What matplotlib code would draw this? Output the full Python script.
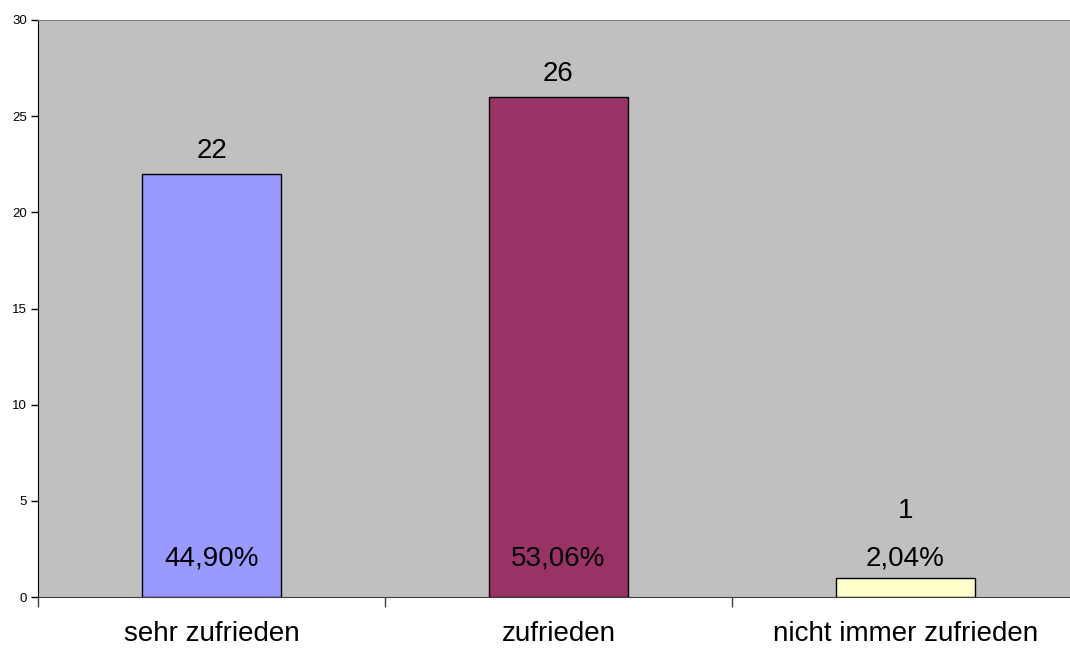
import numpy as np
import matplotlib
matplotlib.use("Agg")
import matplotlib.pyplot as plt

plt.rcParams['font.family'] = ['Liberation Sans', 'DejaVu Sans']

# data
categories = ['sehr zufrieden', 'zufrieden', 'nicht immer zufrieden']
counts = [22, 26, 1]
percents = ['44,90%', '53,06%', '2,04%']
colors = ['#9999FF', '#993366', '#FFFFCC']

fig = plt.figure(figsize=(10.70, 6.48), dpi=100)
# plot area runs a little past the right edge of the image
ax = fig.add_axes([38 / 1070, 1 - 597 / 648, 1041 / 1070, 577 / 648])
ax.set_facecolor('#C0C0C0')

x = np.arange(len(categories))
ax.bar(x, counts, width=0.4, color=colors, edgecolor='black', linewidth=1.0, zorder=2)

ax.set_xlim(-0.5, len(categories) - 0.5)
ax.set_ylim(0, 30)
ax.set_yticks(np.arange(0, 31, 5))
ax.tick_params(axis='y', labelsize=9.5, length=5, width=1, direction='out', pad=3)

# category labels between tick marks (ticks at boundaries)
ax.set_xticks(np.arange(-0.5, len(categories), 1.0))
ax.set_xticklabels([])
ax.tick_params(axis='x', length=7, width=1, direction='out', color='#404040')
for xi, cat in zip(x, categories):
    ax.annotate(cat, (xi, 0), xytext=(0, -37), textcoords='offset pixels',
                ha='center', va='center', fontsize=20, annotation_clip=False)

pct_y = 2.0
for xi, v, p in zip(x, counts, percents):
    ax.text(xi, pct_y, p, ha='center', va='center', fontsize=20, zorder=3)
    base = max(v, pct_y + 1.3)
    ax.annotate(str(v), (xi, base), xytext=(0, 23), textcoords='offset pixels',
                ha='center', va='center', fontsize=20, zorder=3)

ax.spines['left'].set_color('black')
ax.spines['bottom'].set_color('#404040')
ax.spines['top'].set_color('#808080')
ax.spines['right'].set_visible(False)

fig.savefig('out.png', dpi=100)
